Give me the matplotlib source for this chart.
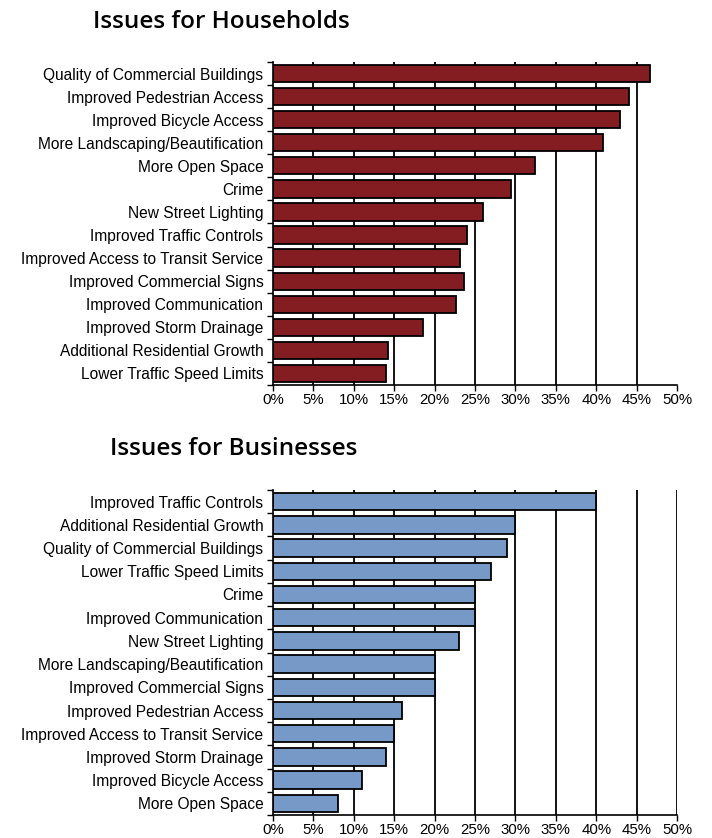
import matplotlib
matplotlib.use("Agg")
import matplotlib.pyplot as plt
import numpy as np
from matplotlib.ticker import PercentFormatter

hh_categories = ["Quality of Commercial Buildings", "Improved Pedestrian Access",
                 "Improved Bicycle Access", "More Landscaping/Beautification",
                 "More Open Space", "Crime", "New Street Lighting",
                 "Improved Traffic Controls", "Improved Access to Transit Service",
                 "Improved Commercial Signs", "Improved Communication",
                 "Improved Storm Drainage", "Additional Residential Growth",
                 "Lower Traffic Speed Limits"]
hh_values = [46.7, 44.0, 43.0, 40.8, 32.4, 29.4, 26.0, 24.0, 23.2, 23.6, 22.6, 18.6, 14.2, 14.0]

bus_categories = ["Improved Traffic Controls", "Additional Residential Growth",
                  "Quality of Commercial Buildings", "Lower Traffic Speed Limits",
                  "Crime", "Improved Communication", "New Street Lighting",
                  "More Landscaping/Beautification", "Improved Commercial Signs",
                  "Improved Pedestrian Access", "Improved Access to Transit Service",
                  "Improved Storm Drainage", "Improved Bicycle Access", "More Open Space"]
bus_values = [40, 30, 29, 27, 25, 25, 23, 20, 20, 16, 15, 14, 11, 8]

x_ticks = [0, 5, 10, 15, 20, 25, 30, 35, 40, 45, 50]

plt.rcParams['font.family'] = ['Liberation Sans', 'DejaVu Sans']

W, H = 712, 838
fig = plt.figure(figsize=(W / 100, H / 100), dpi=100)


def make_panel(rect, cats, vals, color, title, title_xy, grid_max):
    ax = fig.add_axes(rect)
    n = len(cats)
    y = np.arange(n)
    for g in x_ticks:
        if 0 < g <= grid_max:
            ax.axvline(g, color='black', lw=1.3, zorder=1)
    ax.barh(y, vals, height=0.75, color=color, edgecolor='black', linewidth=1.3, zorder=2)
    ax.set_xlim(0, 50)
    ax.set_ylim(n - 0.5, -0.5)
    ax.set_xticks(x_ticks)
    ax.xaxis.set_major_formatter(PercentFormatter(decimals=0))
    ax.set_yticks(y)
    ax.set_yticklabels(cats)
    ax.set_yticks(np.arange(-0.5, n, 1.0), minor=True)
    ax.tick_params(axis='y', which='major', length=0, pad=7, labelsize=11.2)
    ax.tick_params(axis='y', which='minor', length=4, width=1, direction='out')
    ax.tick_params(axis='x', length=4, width=1, direction='out', labelsize=10.8, pad=2)
    for s in ['top', 'right']:
        ax.spines[s].set_visible(False)
    for s in ['left', 'bottom']:
        ax.spines[s].set_linewidth(1.2)
    fig.text(title_xy[0], title_xy[1], title, fontsize=17.5, fontweight='semibold',
             family=['Open Sans', 'DejaVu Sans'], ha='left', va='center')
    return ax


make_panel([273 / W, 1 - 385 / H, 404 / W, 323 / H], hh_categories, hh_values,
           '#841D21', 'Issues for Households', (93 / W, 1 - 22 / H), 45)
make_panel([273 / W, 1 - 815 / H, 404 / W, 325 / H], bus_categories, bus_values,
           '#7799C8', 'Issues for Businesses', (110 / W, 1 - 449 / H), 50)

fig.savefig('out.png', dpi=100)
